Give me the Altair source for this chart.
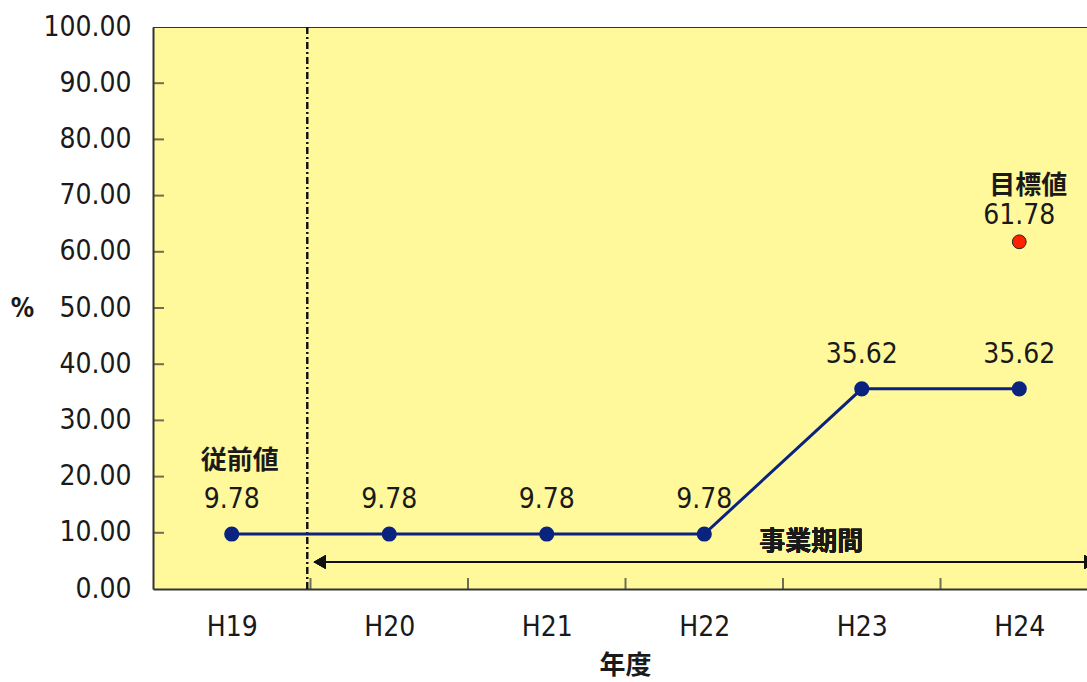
import altair as alt
import pandas as pd

# Yearly values (%) and the target value
years = ["H19", "H20", "H21", "H22", "H23", "H24"]
rates = [9.78, 9.78, 9.78, 9.78, 35.62, 35.62]
target_year = "H24"
target_value = 61.78
y_ticks = [0, 10, 20, 30, 40, 50, 60, 70, 80, 90, 100]

NUM_FONT = "Liberation Sans Narrow, DejaVu Sans Condensed, sans-serif"
JP_FONT = "Noto Sans CJK JP"
NAVY = "#0A237F"
INK = "#1a1a1a"

df = pd.DataFrame({"idx": list(range(len(years))), "year": years, "rate": rates})
df["label"] = [f"{v:.2f}" for v in rates]
target_df = pd.DataFrame({
    "idx": [years.index(target_year)],
    "rate": [target_value],
    "label": [f"{target_value:.2f}"],
})
ytick_df = pd.DataFrame({"rate": y_ticks[1:-1]})
xtick_df = pd.DataFrame({"edge": [i + 0.5 for i in range(len(years) - 1)]})

label_expr = "[" + ",".join(f"'{y}'" for y in years) + "][datum.value]"

x_scale = alt.Scale(domain=[-0.5, 5.43], nice=False, zero=False)
y_scale = alt.Scale(domain=[0, 100], nice=False)

x_axis = alt.Axis(
    values=list(range(len(years))), labelExpr=label_expr, tickSize=0,
    grid=False, labelPadding=24, labelFont=NUM_FONT, labelFontSize=28,
    labelColor=INK, domainColor="#333333",
    domainWidth=2, title="年度", titleFont=JP_FONT, titleFontSize=26,
    titleFontWeight="bold", titleColor=INK, titleX=472, titleY=76,
    titleBaseline="middle", titleAlign="center",
)
y_axis = alt.Axis(
    values=y_ticks, format=".2f", tickSize=0, grid=False, labelPadding=22,
    labelFont=NUM_FONT, labelFontSize=28, labelColor=INK,
    domainColor="#333333", domainWidth=2, title="%", titleAngle=0,
    titleFont=NUM_FONT, titleFontSize=26, titleFontWeight="bold",
    titleColor=INK, titleX=-131, titleY=281, titleAlign="center",
    titleBaseline="middle",
)

X = alt.X("idx:Q", scale=x_scale, axis=x_axis)
Y = alt.Y("rate:Q", scale=y_scale, axis=y_axis)

base = alt.Chart(df)

# Top frame line
top_frame = alt.Chart(df).mark_rule(color="#333333", strokeWidth=2, clip=True).encode(
    x=alt.datum(-0.5), x2=alt.datum(5.6), y=alt.datum(100)
)

# Inward tick marks on both axes
y_ticks_in = alt.Chart(ytick_df).mark_tick(
    orient="horizontal", size=22, thickness=2, color="#333333", clip=True
).encode(x=alt.datum(-0.5), y="rate:Q")
x_ticks_in = alt.Chart(xtick_df).mark_tick(
    orient="vertical", size=22, thickness=2, color="#333333", clip=True
).encode(x="edge:Q", y=alt.datum(0))

# Boundary between the baseline year and the project period
divider = alt.Chart(df).mark_rule(
    color="#111111", strokeWidth=1.5, strokeDash=[7, 3, 2, 3]
).encode(x=alt.datum(0.48), y=alt.datum(0), y2=alt.datum(100))

# Project period arrow
arrow_line = alt.Chart(df).mark_rule(color="#111111", strokeWidth=2, clip=True).encode(
    x=alt.datum(0.56), x2=alt.datum(5.5), y=alt.datum(4.8)
)
arrow_left = alt.Chart(df).mark_point(
    shape="triangle-left", size=200, filled=True, color="#111111", opacity=1, clip=True
).encode(x=alt.datum(0.559), y=alt.datum(4.8))
arrow_right = alt.Chart(df).mark_point(
    shape="triangle-right", size=200, filled=True, color="#111111", opacity=1, clip=True
).encode(x=alt.datum(5.451), y=alt.datum(4.8))
period_text = alt.Chart(df).mark_text(
    text="事業期間", font=JP_FONT, fontSize=26, fontWeight="bold", color=INK,
    align="center", baseline="middle",
).encode(x=alt.datum(3.68), y=alt.datum(8.4))

line = base.mark_line(color=NAVY, strokeWidth=3).encode(x=X, y=Y)
points = base.mark_point(
    filled=True, size=230, color=NAVY, opacity=1
).encode(x=X, y=Y)
values = base.mark_text(
    font=NUM_FONT, fontSize=28, color=INK, dy=-34, baseline="middle"
).encode(x=X, y=Y, text="label:N")

baseline_note = base.transform_filter("datum.idx == 0").mark_text(
    text="従前値", font=JP_FONT, fontSize=26, fontWeight="bold", color=INK,
    dx=8, dy=-73, baseline="middle",
).encode(x=X, y=Y)

target_point = alt.Chart(target_df).mark_point(
    filled=True, size=190, color="#FF2200", stroke="#222222", strokeWidth=1, opacity=1
).encode(x="idx:Q", y="rate:Q")
target_value_text = alt.Chart(target_df).mark_text(
    font=NUM_FONT, fontSize=28, color=INK, dy=-26, baseline="middle"
).encode(x="idx:Q", y="rate:Q", text="label:N")
target_note = alt.Chart(target_df).mark_text(
    text="目標値", font=JP_FONT, fontSize=26, fontWeight="bold", color=INK,
    dx=9, dy=-56, baseline="middle",
).encode(x="idx:Q", y="rate:Q")

chart = alt.layer(
    top_frame, y_ticks_in, x_ticks_in, divider, arrow_line, arrow_left,
    arrow_right, period_text, line, points, values, baseline_note,
    target_point, target_value_text, target_note,
).properties(
    width=934, height=562,
    autosize=alt.AutoSizeParams(type="none"),
    padding={"left": 153, "top": 27, "right": 0, "bottom": 93},
    background="white",
).configure_view(fill="#FFF99C", stroke="transparent")

chart.save("out.html", embed_options={"renderer": "svg", "actions": False})
